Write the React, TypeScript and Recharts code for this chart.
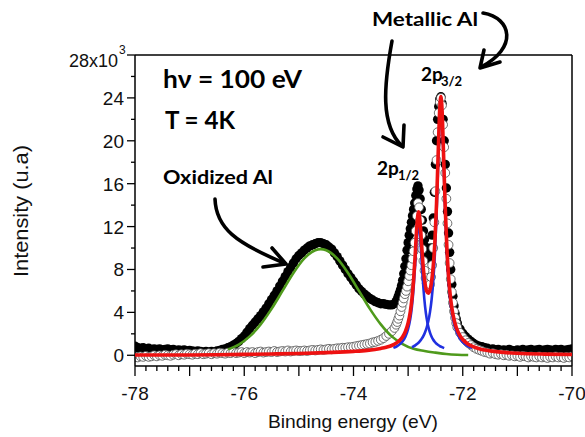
import { ComposedChart, Line, Scatter, XAxis, YAxis, ReferenceLine } from 'recharts';

// binding energy grid of the measured spectrum (eV)
const energyA = [
  -78, -77.95, -77.9, -77.85, -77.8, -77.75, -77.7, -77.65, -77.6, -77.55, -77.5, -77.45, -77.4, -77.35, -77.3, -77.25, -77.2, -77.15, -77.1, -77.05,
  -77, -76.95, -76.9, -76.85, -76.8, -76.75, -76.7, -76.65, -76.6, -76.55, -76.5, -76.45, -76.4, -76.35, -76.3, -76.25, -76.2, -76.15, -76.1, -76.05,
  -76, -75.95, -75.9, -75.85, -75.8, -75.75, -75.7, -75.65, -75.6, -75.55, -75.5, -75.45, -75.4, -75.35, -75.3, -75.25, -75.2, -75.15, -75.1, -75.05,
  -75, -74.95, -74.9, -74.85, -74.8, -74.75, -74.7, -74.65, -74.6, -74.55, -74.5, -74.45, -74.4, -74.35, -74.3, -74.25, -74.2, -74.15, -74.1, -74.05,
  -74, -73.95, -73.9, -73.85, -73.8, -73.75, -73.7, -73.65, -73.6, -73.55, -73.5, -73.45, -73.4, -73.35, -73.3, -73.25,
];
const energyB = [
  -73.22, -73.2, -73.18, -73.16, -73.14, -73.12, -73.1, -73.08, -73.06, -73.04, -73.02, -73, -72.98, -72.96, -72.94, -72.92, -72.9, -72.88, -72.86, -72.84, -72.82,
  -72.8, -72.78, -72.76, -72.74, -72.72, -72.7, -72.68, -72.66, -72.64, -72.62, -72.6, -72.58, -72.56, -72.54, -72.52, -72.5, -72.48, -72.46, -72.44, -72.42, -72.4,
  -72.38, -72.36, -72.34, -72.32, -72.3, -72.28, -72.26, -72.24, -72.22, -72.2, -72.18, -72.16, -72.14, -72.12, -72.1,
];
const energyC = [
  -72.05, -72, -71.95, -71.9, -71.85, -71.8, -71.75, -71.7, -71.65, -71.6, -71.55,
  -71.5, -71.45, -71.4, -71.35, -71.3, -71.25, -71.2, -71.15, -71.1, -71.05,
  -71, -70.95, -70.9, -70.85, -70.8, -70.75, -70.7, -70.65, -70.6, -70.55,
  -70.5, -70.45, -70.4, -70.35, -70.3, -70.25, -70.2, -70.15, -70.1, -70.05, -70,
];

// raw intensity, black dots (x10^3)
const rawA = [
  0.85, 0.7, 0.65, 0.7, 0.6, 0.65, 0.55, 0.6, 0.55, 0.6, 0.5, 0.55, 0.6, 0.5, 0.55, 0.45, 0.5, 0.45, 0.5, 0.4,
  0.45, 0.4, 0.35, 0.4, 0.35, 0.3, 0.35, 0.3, 0.35, 0.3, 0.4, 0.45,
  0.55, 0.6, 0.7, 0.8, 0.95, 1.1, 1.3, 1.55, 1.8, 2.15, 2.5, 2.8, 3.1, 3.4, 3.7, 4.05, 4.4, 4.8, 5.2, 5.6,
  6.0, 6.45, 6.9, 7.35, 7.8, 8.2, 8.6, 9.0, 9.3, 9.55, 9.8, 10.0, 10.2, 10.3, 10.4, 10.5, 10.5, 10.4, 10.3, 10.1,
  9.9, 9.55, 9.2, 8.8, 8.4, 8.0, 7.6, 7.25, 6.9, 6.55, 6.2, 5.95, 5.7, 5.5, 5.3, 5.15, 5.0, 4.9, 4.8, 4.8,
  4.75, 4.7, 4.7, 4.8,
];
const rawB = [
  5.0, 5.2, 5.5, 5.8, 6.1, 6.5, 7.0, 7.6, 8.3, 9.0, 9.8, 10.5, 11.2, 11.8, 12.4, 13.0, 13.6, 14.2, 14.9, 15.5, 15.8,
  15.4, 14.6, 13.6, 12.6, 11.6, 10.8, 10.1, 9.6, 9.2, 9.0, 9.3, 10.0, 11.2, 12.8, 15.2, 17.8, 20.0, 22.0, 23.2, 23.9, 24.1,
  23.5, 22.0, 20.0, 17.8, 15.6, 13.4, 11.4, 9.6, 8.0, 6.6, 5.5, 4.6, 3.9, 3.4, 3.0,
];
const rawC = [
  2.45, 2.05, 1.75, 1.5, 1.3, 1.1, 0.95, 0.85, 0.8, 0.7, 0.65,
  0.55, 0.6, 0.5, 0.55, 0.45, 0.5, 0.45, 0.55, 0.45, 0.4,
  0.5, 0.45, 0.55, 0.45, 0.5, 0.55, 0.45, 0.5, 0.55, 0.45,
  0.5, 0.55, 0.5, 0.45, 0.55, 0.5, 0.55, 0.45, 0.5, 0.55, 0.6,
];

// background-subtracted intensity, open circles (x10^3)
const subA = [
  -0.15, -0.2, -0.1, -0.15, -0.05, -0.15, -0.1, 0.0, -0.1, 0.0, -0.05, 0.05, 0.0, -0.05, 0.05, 0.1, 0.0, 0.1, 0.05, 0.15,
  0.1, 0.05, 0.15, 0.1, 0.2, 0.1, 0.15, 0.2, 0.1, 0.2, 0.15, 0.25,
  0.2, 0.15, 0.25, 0.2, 0.3, 0.2, 0.25, 0.3, 0.2, 0.3, 0.25, 0.3, 0.2, 0.3, 0.35, 0.25, 0.3, 0.35, 0.3, 0.4,
  0.3, 0.35, 0.4, 0.35, 0.45, 0.35, 0.4, 0.45, 0.4,
  0.4, 0.45, 0.4, 0.45, 0.5, 0.45, 0.5, 0.55, 0.5, 0.55, 0.6, 0.55, 0.6, 0.65, 0.65, 0.7, 0.7, 0.75, 0.75,
  0.8, 0.85, 0.9, 0.95, 1.0, 1.05, 1.1, 1.2, 1.25, 1.35, 1.45, 1.6, 1.8, 2.0, 2.25, 2.55,
];
const subB = [
  2.85, 3.1, 3.4, 3.7, 4.1, 4.5, 4.9, 5.3, 5.7, 6.0, 6.4, 6.9, 7.4, 7.9, 8.4, 9.0, 9.7, 10.5, 11.6, 13.0, 14.2,
  13.8, 12.6, 11.2, 9.9, 8.8, 7.9, 7.2, 6.7, 6.4, 6.3, 6.6, 7.3, 8.4, 10.0, 12.4, 15.3, 18.2, 20.8, 22.6, 23.6, 24.0,
  23.3, 21.5, 19.4, 17.0, 14.6, 12.3, 10.3, 8.6, 7.1, 5.9, 4.9, 4.1, 3.5, 3.0, 2.6,
];
const subC = [
  2.1, 1.7, 1.4, 1.15, 0.95, 0.75, 0.6, 0.5, 0.4, 0.3, 0.25,
  0.15, 0.2, 0.1, 0.05, 0.1, 0.0, 0.05, -0.05, 0.0, -0.1,
  -0.05, -0.15, -0.05, -0.1, -0.2, -0.1, -0.15, -0.2, -0.1, -0.2,
  -0.15, -0.25, -0.15, -0.2, -0.1, -0.2, -0.15, -0.25, -0.15, -0.2, -0.1,
];

// total fit (red)
const fitEnergy = [
  -78, -77.5, -77, -76.5, -76, -75.5, -75, -74.5, -74, -73.75, -73.5, -73.4, -73.3, -73.2, -73.15, -73.1, -73.05, -73,
  -72.96, -72.93, -72.9, -72.87, -72.84, -72.81, -72.78, -72.75, -72.72, -72.69, -72.66, -72.63, -72.6, -72.57, -72.54,
  -72.51, -72.48, -72.45, -72.42, -72.4, -72.38, -72.35, -72.32, -72.29, -72.26, -72.23, -72.2, -72.16, -72.12, -72.06,
  -72, -71.9, -71.8, -71.7, -71.6, -71.5, -71.25, -71, -70.5, -70,
];
const fitTotal = [
  0.02, 0.02, 0.03, 0.05, 0.08, 0.12, 0.17, 0.25, 0.36, 0.46, 0.64, 0.75, 0.91, 1.2, 1.42, 1.73, 2.22, 3.01,
  4.06, 5.27, 7.03, 9.43, 12.04, 13.37, 12.34, 10.06, 8.01, 6.67, 5.96, 5.79, 6.08, 6.87, 8.3,
  10.61, 14.13, 18.79, 23.09, 24.13, 22.97, 18.51, 13.68, 9.95, 7.38, 5.63, 4.43, 3.34, 2.61, 1.91,
  1.47, 1.03, 0.78, 0.61, 0.49, 0.41, 0.27, 0.19, 0.11, 0.07,
];

// 2p1/2 component (blue)
const p12Energy = [
  -73.27, -73.2, -73.15, -73.1, -73.05, -73, -72.96, -72.93, -72.9, -72.87, -72.84, -72.81, -72.78, -72.75,
  -72.72, -72.69, -72.66, -72.63, -72.6, -72.57, -72.54, -72.51, -72.48, -72.45, -72.42, -72.39, -72.34,
];
const p12Fit = [
  0.69, 0.86, 1.04, 1.3, 1.73, 2.45, 3.42, 4.57, 6.25, 8.56, 11.05, 12.25, 11.05, 8.56,
  6.25, 4.57, 3.42, 2.65, 2.11, 1.73, 1.45, 1.24, 1.08, 0.96, 0.86, 0.78, 0.67,
];

// 2p3/2 component (blue)
const p32Energy = [
  -72.93, -72.9, -72.87, -72.84, -72.81, -72.78, -72.75, -72.72, -72.69, -72.66, -72.63, -72.6, -72.57, -72.54, -72.51, -72.48,
  -72.45, -72.42, -72.4, -72.38, -72.35, -72.32, -72.29, -72.26, -72.23, -72.2, -72.16, -72.12, -72.06, -72, -71.9, -71.83,
];
const p32Fit = [
  0.75, 0.83, 0.92, 1.04, 1.17, 1.34, 1.55, 1.81, 2.15, 2.59, 3.19, 4.02, 5.2, 6.91, 9.44, 13.12,
  17.9, 22.3, 23.4, 22.3, 17.9, 13.12, 9.44, 6.91, 5.2, 4.02, 2.97, 2.28, 1.63, 1.22, 0.83, 0.67,
];

// oxide component (green)
const oxideEnergy = [
  -76.3, -76.1, -75.9, -75.7, -75.5, -75.3, -75.1, -74.9, -74.7, -74.6, -74.5, -74.3,
  -74.1, -73.9, -73.7, -73.5, -73.3, -73.1, -72.9, -72.7, -72.5, -72.3, -72.1, -71.9,
];
const oxideFit = [
  0.55, 1.0, 1.76, 2.88, 4.33, 6.0, 7.67, 9.03, 9.8, 9.9, 9.8, 9.03,
  7.67, 6.0, 4.33, 2.88, 1.76, 1.05, 0.6, 0.4, 0.25, 0.12, 0.05, 0.02,
];

const xLabels = [-78, -76, -74, -72, -70];
const yLabels = [0, 4, 8, 12, 16, 20, 24, 28];

const pts = (xs: number[], ys: number[]) => xs.map((x, i) => ({ x, y: ys[i] }));

const energy = [...energyA, ...energyB, ...energyC];
const rawData = pts(energy, [...rawA, ...rawB, ...rawC]);
const subData = pts(energy, [...subA, ...subB, ...subC]);
const fitData = pts(fitEnergy, fitTotal);
const p12Data = pts(p12Energy, p12Fit);
const p32Data = pts(p32Energy, p32Fit);
const oxideData = pts(oxideEnergy, oxideFit);

// minor ticks every 0.2 eV, every 2k on y
const xTicks: number[] = [];
for (let i = 0; i <= 40; i++) xTicks.push(Math.round((-78 + i * 0.2) * 10) / 10);
const yTicks: number[] = [];
for (let v = 0; v <= 28; v += 2) yTicks.push(v);

const AXIS_FONT = '"Liberation Sans", Arial, sans-serif';
const NOTE_FONT = 'Lato, "Open Sans", sans-serif';

const XTick = (props: any) => {
  const { x, y, payload } = props;
  const v = payload.value;
  const whole = Math.abs(v - Math.round(v)) < 1e-6;
  const showLabel = whole && xLabels.includes(Math.round(v));
  return (
    <g>
      <line x1={x} y1={y} x2={x} y2={y + (whole ? 10 : 5)} stroke="#000" strokeWidth={1.3} />
      {showLabel && (
        <text x={x} y={y + 34} textAnchor="middle" fontSize={19} fontFamily={AXIS_FONT} fill="#111">
          {Math.round(v)}
        </text>
      )}
    </g>
  );
};

const YTick = (props: any) => {
  const { x, y, payload } = props;
  const v = payload.value;
  const major = yLabels.includes(v);
  return (
    <g>
      <line x1={x} y1={y} x2={x - (major ? 8 : 4)} y2={y} stroke="#000" strokeWidth={1.3} />
      {major && v !== 28 && (
        <text x={x - 11} y={y + 7} textAnchor="end" fontSize={19} fontFamily={AXIS_FONT} fill="#111">
          {v}
        </text>
      )}
      {v === 28 && (
        <g>
          <text x={x - 17} y={y + 12} textAnchor="end" fontSize={18} fontFamily={AXIS_FONT} fill="#111">
            28x10
          </text>
          <text x={x - 16} y={y - 1} fontSize={12} fontFamily={AXIS_FONT} fill="#111">
            3
          </text>
        </g>
      )}
    </g>
  );
};

const blackDot = (p: any) => <circle cx={p.cx} cy={p.cy} r={4.7} fill="#000" />;
const openDot = (p: any) => <circle cx={p.cx} cy={p.cy} r={4.4} fill="#fff" stroke="#4a4a4a" strokeWidth={0.8} />;

const Arrow = ({ d, head }: { d: string; head: string }) => (
  <g fill="none" stroke="#000" strokeWidth={3.6} strokeLinecap="round" strokeLinejoin="round">
    <path d={d} />
    <path d={head} />
  </g>
);

export default function App() {
  return (
    <div style={{ position: 'absolute', left: 0, top: 0, width: 585, height: 437, background: '#fff' }}>
      <ComposedChart width={585} height={437} margin={{ top: 55, right: 13, bottom: 0, left: 0 }}>
        <XAxis
          type="number"
          dataKey="x"
          domain={[-78, -70]}
          allowDataOverflow
          ticks={xTicks}
          interval={0}
          tick={<XTick />}
          tickLine={false}
          tickSize={0}
          tickMargin={0}
          height={71}
          axisLine={{ stroke: '#000', strokeWidth: 1.5 }}
        />
        <YAxis
          type="number"
          dataKey="y"
          domain={[-1, 28]}
          allowDataOverflow
          ticks={yTicks}
          interval={0}
          tick={<YTick />}
          tickLine={false}
          tickSize={0}
          tickMargin={0}
          width={135}
          axisLine={{ stroke: '#000', strokeWidth: 1.5 }}
        />
        <ReferenceLine y={28} stroke="#000" strokeWidth={1.5} ifOverflow="extendDomain" />
        <ReferenceLine x={-70} stroke="#000" strokeWidth={1.5} />
        <Scatter data={rawData} shape={blackDot} isAnimationActive={false} zIndex={100} />
        <Scatter data={subData} shape={openDot} isAnimationActive={false} zIndex={110} />
        <Line data={oxideData} dataKey="y" type="monotone" stroke="#4f9a1c" strokeWidth={2.6} dot={false} isAnimationActive={false} zIndex={500} />
        <Line data={p12Data} dataKey="y" type="monotone" stroke="#2030e0" strokeWidth={2.6} dot={false} isAnimationActive={false} zIndex={510} />
        <Line data={p32Data} dataKey="y" type="monotone" stroke="#2030e0" strokeWidth={2.6} dot={false} isAnimationActive={false} zIndex={520} />
        <Line data={fitData} dataKey="y" type="monotone" stroke="#ee1111" strokeWidth={3.6} dot={false} isAnimationActive={false} zIndex={530} />
      </ComposedChart>

      <svg width={585} height={437} style={{ position: 'absolute', left: 0, top: 0, pointerEvents: 'none' }}>
        <text transform="translate(28,211) rotate(-90)" textAnchor="middle" fontSize={20} fontFamily={AXIS_FONT} fill="#111" textLength={132} lengthAdjust="spacingAndGlyphs">
          Intensity (u.a)
        </text>
        <text x={353} y={428} textAnchor="middle" fontSize={19} fontFamily={AXIS_FONT} fill="#111" textLength={170} lengthAdjust="spacingAndGlyphs">
          Binding energy (eV)
        </text>

        <g fontFamily={NOTE_FONT} fontWeight={700} fill="#000">
          <text x={163} y={88} fontSize={24} textLength={139} lengthAdjust="spacingAndGlyphs">hν = 100 eV</text>
          <text x={165} y={129} fontSize={24} textLength={70} lengthAdjust="spacingAndGlyphs">T = 4K</text>
          <text x={163} y={184} fontSize={19} textLength={110} lengthAdjust="spacingAndGlyphs">Oxidized Al</text>
          <text x={372} y={26} fontSize={19} textLength={106} lengthAdjust="spacingAndGlyphs">Metallic Al</text>
          <text x={421} y={81} fontSize={19}>2p</text>
          <text x={441} y={86} fontSize={13}>3/2</text>
          <text x={377} y={175} fontSize={19}>2p</text>
          <text x={398} y={180} fontSize={13}>1/2</text>
        </g>

        <Arrow d="M215,199 C216,228 236,243 284,263" head="M272,248 L286,264 L263,267" />
        <Arrow d="M392,41 C384,85 380,125 402,146" head="M383,137 L403,147 L404,125" />
        <Arrow d="M483,13 C512,18 518,48 481,67" head="M484,50 L480,68 L500,62" />
      </svg>
    </div>
  );
}
